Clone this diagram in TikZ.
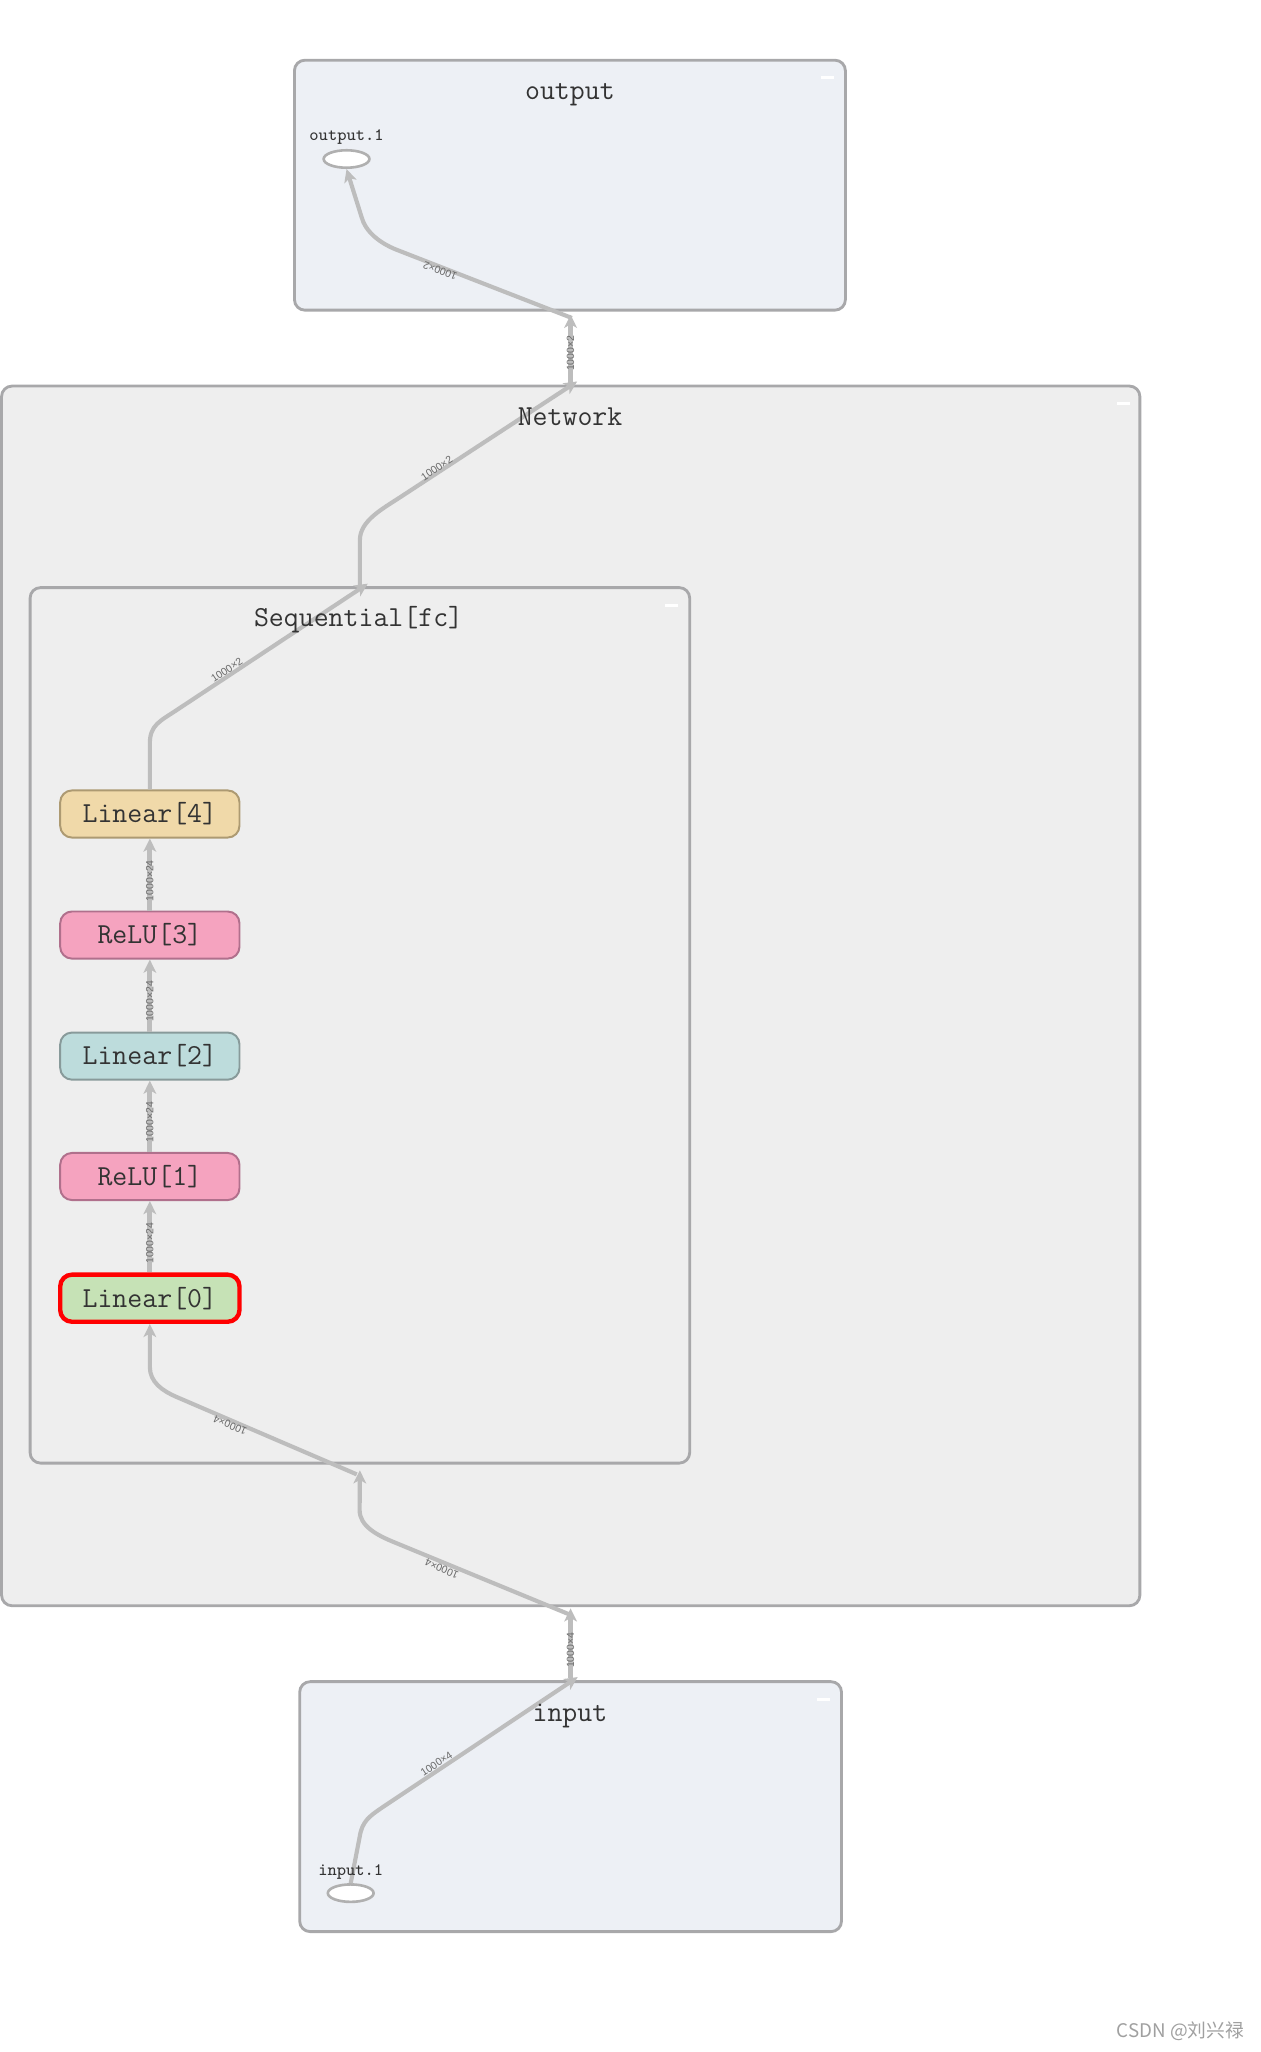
\documentclass[tikz,border=0pt]{standalone}
\usepackage{fontspec}
\newfontfamily\lblfont{Liberation Sans}
\newfontfamily\cjk{Noto Sans CJK SC}
\usetikzlibrary{arrows.meta,shapes.geometric}
\definecolor{bluebox}{HTML}{EDF0F5}
\definecolor{graybox}{HTML}{EEEEEE}
\definecolor{grpborder}{HTML}{A8A8AA}
\definecolor{titlec}{HTML}{333333}
\definecolor{edgec}{HTML}{BDBDBD}
\definecolor{elabc}{HTML}{6A6A6A}
\definecolor{portc}{HTML}{B0B0B0}
\definecolor{linAfill}{HTML}{F0D9A9}
\definecolor{linAdraw}{HTML}{AD9A72}
\definecolor{relufill}{HTML}{F5A3BF}
\definecolor{reludraw}{HTML}{B0708C}
\definecolor{linBfill}{HTML}{BDDCDC}
\definecolor{linBdraw}{HTML}{889A9A}
\definecolor{linCfill}{HTML}{C6E2B6}
\definecolor{hilite}{HTML}{FF0000}
\definecolor{wmark}{HTML}{A0A0A0}
\tikzset{
  grp/.style={draw=grpborder, line width=1.3pt, rounded corners=4.8pt, inner sep=0pt},
  grptitle/.style={text=titlec, font=\ttfamily\fontsize{13.3pt}{14pt}\selectfont, anchor=base, inner sep=0pt},
  layer/.style={line width=0.9pt, rounded corners=5.4pt, minimum width=82.2pt, minimum height=21.6pt,
    inner sep=0pt, text=titlec, font=\ttfamily\fontsize{13.3pt}{14pt}\selectfont, text height=8.1pt, text depth=0pt},
  edge/.style={draw=edgec, line width=1.9pt, -{Stealth[length=6pt,width=5.8pt,inset=1.6pt]}},
  vedge/.style={draw=edgec, line width=2.4pt, -{Stealth[length=6pt,width=5.8pt,inset=1.6pt]}},
  elab/.style={text=elabc, font=\lblfont\fontsize{4.8pt}{5pt}\selectfont, inner sep=0pt},
  port/.style={ellipse, draw=portc, fill=white, line width=1.2pt, minimum width=21pt, minimum height=8pt, inner sep=0pt},
  portlab/.style={text=titlec, font=\ttfamily\fontsize{8pt}{9pt}\selectfont, anchor=base, inner sep=0pt},
  collapse/.style={fill=white, minimum width=6pt, minimum height=1.3pt, inner sep=0pt},
}
\begin{document}
\begin{tikzpicture}[x=0.6pt,y=-0.6pt]
\useasboundingbox (0,0) rectangle (963,1568);
\fill[white] (0,0) rectangle (963,1568);

% group boxes
\node[grp, fill=graybox, minimum width=869.8*0.6pt, minimum height=932*0.6pt] (network) at (436.1,761) {};
\node[grp, fill=graybox, minimum width=504*0.6pt, minimum height=669*0.6pt] (seq) at (275,783.5) {};
\node[grp, fill=bluebox, minimum width=421*0.6pt, minimum height=191*0.6pt] (output) at (435.5,141.5) {};
\node[grp, fill=bluebox, minimum width=414*0.6pt, minimum height=191*0.6pt] (input) at (436,1380.5) {};

% collapse markers
\node[collapse] (outputC) at (632.5,59.4) {};
\node[collapse] (networkC) at (858.5,308.3) {};
\node[collapse] (seqC) at (513.4,462.4) {};
\node[collapse] (inputC) at (629.2,1298.8) {};

% ports
\node[port] (out1) at (264.8,121.5) {};
\node[port] (in1) at (268,1446.6) {};

% layers
\node[layer, fill=linAfill, draw=linAdraw] (lin4) at (114.5,622) {Linear[4]};
\node[layer, fill=relufill, draw=reludraw] (relu3) at (114.5,714.5) {ReLU[3]};
\node[layer, fill=linBfill, draw=linBdraw] (lin2) at (114.5,807) {Linear[2]};
\node[layer, fill=relufill, draw=reludraw] (relu1) at (114.5,899) {ReLU[1]};
\node[layer, fill=linCfill, draw=hilite, line width=2pt] (lin0) at (114.5,992) {Linear[0]};

% named ports on the group borders
\coordinate (inTop) at (436,1282.5);
\coordinate (inTopTip) at (441.4,1281.5);
\coordinate (netBot) at (436,1229);
\coordinate (netBotOut) at (436,1234);
\coordinate (seqBot) at (275,1123.5);
\coordinate (seqBotOut) at (272.6,1126.6);
\coordinate (seqTop) at (281,446);
\coordinate (seqTopOut) at (275,448.6);
\coordinate (netTop) at (441,291.5);
\coordinate (netTopOut) at (436,293);
\coordinate (outBot) at (436,240.5);
\coordinate (outBotIn) at (437,243);

% edges
\draw[edge] (in1.north) -- (274.8,1403.8) .. controls (276.6,1392) and (281.8,1388) .. (292.6,1380.8) -- (inTopTip);
\draw[vedge] (inTop) -- (netBot);
\draw[edge] (netBotOut) -- (300.8,1178.3) .. controls (287.9,1173) and (274.8,1166) .. (274.8,1154) -- (seqBot);
\draw[edge] (seqBotOut) -- (135,1067.5) .. controls (124,1062.8) and (114.5,1056) .. (114.5,1044.6) -- (lin0.south);
\draw[vedge] (lin0.north) -- (relu1.south);
\draw[vedge] (relu1.north) -- (lin2.south);
\draw[vedge] (lin2.north) -- (relu3.south);
\draw[vedge] (relu3.north) -- (lin4.south);
\draw[edge] (lin4.north) -- (114.5,568) .. controls (114.5,554) and (122.5,550.9) .. (135,542.6) -- (seqTop);
\draw[edge] (seqTopOut) -- (275,412.7) .. controls (275,398) and (292.3,388.8) .. (305.7,380) -- (netTop);
\draw[vedge] (netTopOut) -- (outBot);
\draw[edge] (outBotIn) -- (303.4,191) .. controls (290.4,185.9) and (279.2,177.2) .. (276.2,165.6) -- (out1.south);

% edge labels
\node[elab, rotate=33.4] (l1) at (333.5,1347.7) {1000×4};
\node[elab, rotate=90] (l2) at (436,1261) {1000×4};
\node[elab, rotate=157] (l3) at (337.6,1198.7) {1000×4};
\node[elab, rotate=157.7] (l4) at (175.8,1089) {1000×4};
\node[elab, rotate=90] (l5) at (114.5,950) {1000×24};
\node[elab, rotate=90] (l6) at (114.5,857.5) {1000×24};
\node[elab, rotate=90] (l7) at (114.5,765.2) {1000×24};
\node[elab, rotate=90] (l8) at (114.5,673) {1000×24};
\node[elab, rotate=33.7] (l9) at (173.3,512) {1000×2};
\node[elab, rotate=33.7] (l10) at (333.7,357.8) {1000×2};
\node[elab, rotate=90] (l11) at (436,270) {1000×2};
\node[elab, rotate=158.8] (l12) at (336.3,206.9) {1000×2};

% titles
\node[grptitle] (outputT) at (435.5,75.9) {output};
\node[grptitle] (networkT) at (435.6,324.8) {Network};
\node[grptitle] (seqT) at (274,479) {Sequential[fc]};
\node[grptitle] (inputT) at (435.5,1315.5) {input};
\node[portlab] (out1L) at (264.8,107.5) {output.1};
\node[portlab] (in1L) at (268,1433) {input.1};

% watermark
\node[text=wmark, font=\cjk\fontsize{8.6pt}{10pt}\selectfont, anchor=base east, inner sep=0pt] (wm) at (951,1557) {CSDN @刘兴禄};
\end{tikzpicture}
\end{document}
